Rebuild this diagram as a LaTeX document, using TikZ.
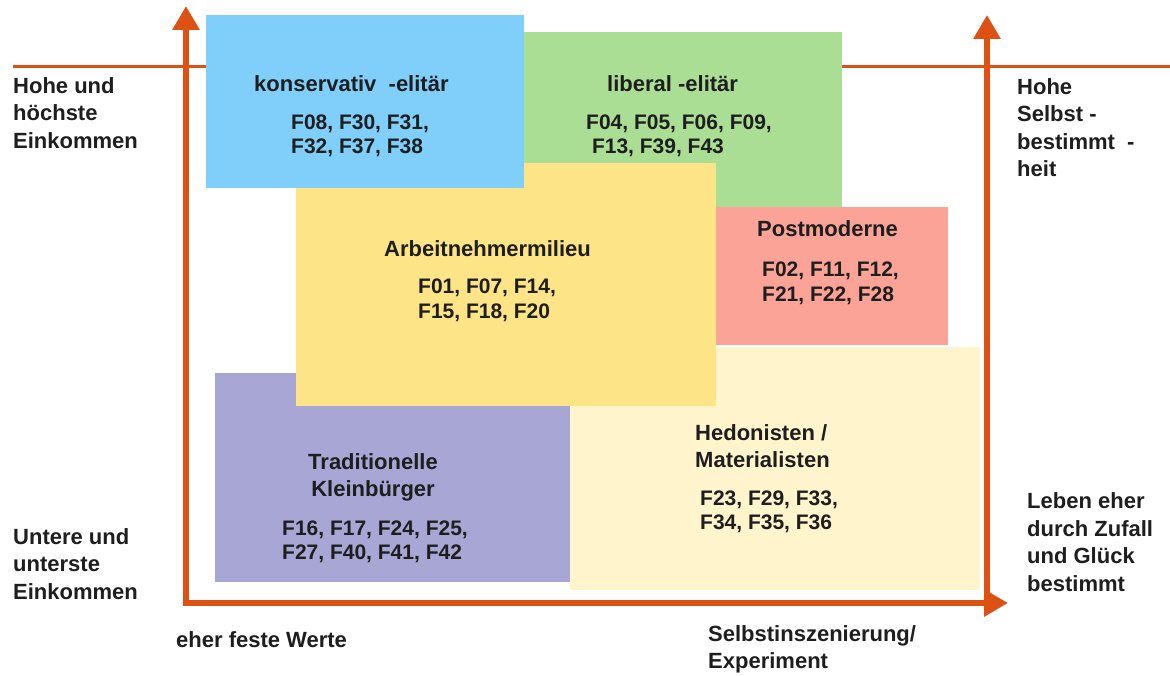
\documentclass[tikz,border=0pt]{standalone}
\usepackage{fontspec}
\setmainfont{Liberation Sans}
\usepackage{tikz}
\usetikzlibrary{arrows.meta}
\usepackage{xcolor}
\definecolor{axisorange}{RGB}{221,82,20}
\definecolor{konsblue}{RGB}{128,207,250}
\definecolor{libgreen}{RGB}{170,222,148}
\definecolor{arbyellow}{RGB}{253,228,135}
\definecolor{postred}{RGB}{250,163,150}
\definecolor{hedocream}{RGB}{255,244,203}
\definecolor{tradlilac}{RGB}{168,166,212}
\definecolor{ink}{RGB}{30,30,30}
\newcommand{\sidefont}{\fontsize{22}{27.5}\selectfont\bfseries}
\newcommand{\titlefont}{\fontsize{22}{27}\selectfont\bfseries}
\newcommand{\codefont}{\fontsize{21}{24.5}\selectfont\bfseries}

\tikzset{
  milieu/.style={inner sep=0pt,outer sep=0pt,anchor=north west},
  sidetext/.style={font=\sidefont,text=ink,align=left,anchor=west,inner sep=0pt},
  titletext/.style={font=\titlefont,text=ink,align=left,anchor=west,inner sep=0pt},
  codetext/.style={font=\codefont,text=ink,align=left,anchor=west,inner sep=0pt},
  axis/.style={draw=axisorange,line width=6pt,line cap=rect,
    -{Triangle[length=24pt,width=26pt]}}
}

\begin{document}
\begin{tikzpicture}[x=1pt,y=-1pt]
\useasboundingbox (0,0) rectangle (1170,676);

% thin guide line behind the boxes
\coordinate (guideL) at (13,67);
\coordinate (guideR) at (1170,67);
\draw[axisorange,line width=3pt] (guideL) -- (guideR);

% milieu boxes
\node[milieu,fill=libgreen,minimum width=318pt,minimum height=176pt] (liberal) at (524,32) {};
\node[milieu,fill=tradlilac,minimum width=355pt,minimum height=209pt] (trad) at (215,373) {};
\node[milieu,fill=hedocream,minimum width=410pt,minimum height=243pt] (hedo) at (570,347) {};
\node[milieu,fill=postred,minimum width=232pt,minimum height=138pt] (post) at (716,207) {};
\node[milieu,fill=arbyellow,minimum width=420pt,minimum height=243pt] (arbeit) at (296,163) {};
\node[milieu,fill=konsblue,minimum width=318pt,minimum height=173pt] (kons) at (206,15) {};

% axes
\coordinate (origin) at (186,603);
\coordinate (ytop) at (186,6);
\coordinate (xend) at (1008,603);
\coordinate (rfoot) at (987,603);
\coordinate (rtop) at (987,15);
\draw[axis] (origin) -- (ytop);
\draw[axis] (origin) -- (xend);
\draw[axis] (rfoot) -- (rtop);

% labels in the boxes
\node[titletext] (konsT) at (254,84) {konservativ \ -elitär};
\node[codetext] (konsF) at (291,136) {F08, F30, F31,\\F32, F37, F38};
\node[titletext] (libT) at (607,84) {liberal -elitär};
\node[codetext] (libF) at (586,136) {F04, F05, F06, F09,\\\ F13, F39, F43};
\node[titletext] (arbT) at (384,249) {Arbeitnehmermilieu};
\node[codetext] (arbF) at (418,300.5) {F01, F07, F14,\\F15, F18, F20};
\node[titletext] (postT) at (757,229) {Postmoderne};
\node[codetext] (postF) at (762,283.5) {F02, F11, F12,\\F21, F22, F28};
\node[titletext] (hedoT) at (695,446) {Hedonisten /\\Materialisten};
\node[codetext] (hedoF) at (700,512) {F23, F29, F33,\\F34, F35, F36};
\node[titletext,align=center,anchor=center] (tradT) at (373,477.5) {Traditionelle\\Kleinbürger};
\node[codetext] (tradF) at (282,542) {F16, F17, F24, F25,\\F27, F40, F41, F42};

% labels round the axes
\node[sidetext] (hiInc) at (13,113) {Hohe und\\höchste\\Einkommen};
\node[sidetext] (loInc) at (13,564) {Untere und\\unterste\\Einkommen};
\node[sidetext] (selbst) at (1017,127.5) {Hohe\\Selbst -\\bestimmt \ -\\heit};
\node[sidetext] (zufall) at (1027,542) {Leben eher\\durch Zufall\\und Glück\\bestimmt};
\node[sidetext] (fest) at (176,640) {eher feste Werte};
\node[sidetext] (insz) at (708,649.5) {Selbstinszenierung/\\Experiment};
\end{tikzpicture}
\end{document}
